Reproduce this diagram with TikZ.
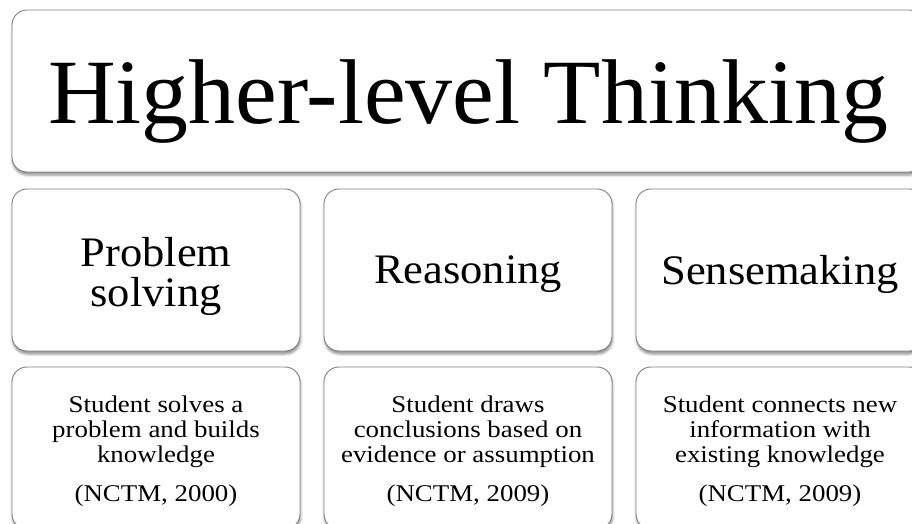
\documentclass[tikz,border=0pt]{standalone}
\usepackage{fontspec}
\setmainfont{Liberation Serif}
\newfontfamily\titlefont[FakeStretch=1.02]{Liberation Serif}
\newfontfamily\headfont[FakeStretch=1.06]{Liberation Serif}
\newfontfamily\notefont[FakeStretch=1.12]{Liberation Serif}
\usetikzlibrary{shadows.blur}
\definecolor{cardb}{RGB}{128,128,128}
\definecolor{txt}{RGB}{0,0,0}
\tikzset{
  card/.style={draw=cardb,fill=white,rounded corners=15pt,line width=0.9pt,inner sep=0pt,
    minimum width=288pt,minimum height=162pt,
    blur shadow={shadow xshift=0.6pt,shadow yshift=-3pt,shadow blur radius=2.5pt,shadow opacity=45}},
  bigcard/.style={card,minimum width=912pt},
  title/.style={inner sep=0pt,text=txt,font=\titlefont\fontsize{92}{92}\selectfont},
  head/.style={inner sep=0pt,align=center,text=txt,font=\headfont\fontsize{42}{40}\selectfont},
  note/.style={inner sep=0pt,align=center,text=txt,font=\notefont\fontsize{24}{25}\selectfont},
}
\newcommand{\citeline}[1]{\\[14pt]#1}

\begin{document}
\begin{tikzpicture}[x=1pt,y=-1pt]
% ---- page frame (pixel grid, y runs down) ----
\useasboundingbox (0,0) rectangle (912,524);
\clip (0,0) rectangle (912,524);
\def\yTop{91}\def\yMid{270}\def\yLow{448}
\def\xA{156}\def\xB{468}\def\xC{780}

\node[bigcard] (top) at (\xB,\yTop) {};
\node[title] (top-t) at (\xB,\yTop+11) {Higher-level Thinking};

% ---- middle row ----
\node[card] (solve) at (\xA,\yMid) {};
\node[card] (reason) at (\xB,\yMid) {};
\node[card] (sense) at (\xC,\yMid) {};
\node[head] (solve-t) at (\xA,\yMid+6) {Problem\\solving};
\node[head] (reason-t) at (\xB,\yMid+4) {Reasoning};
\node[head] (sense-t) at (\xC,\yMid+4) {Sensemaking};

% ---- lower row (cut by the page edge) ----
\foreach \col/\x in {solve/\xA,reason/\xB,sense/\xC}
  \node[card] (\col-d) at (\x,\yLow) {};
\node[note] (solve-n) at (\xA,\yLow+3) {Student solves a\\problem and builds\\knowledge\citeline{(NCTM, 2000)}};
\node[note] (reason-n) at (\xB,\yLow+3) {Student draws\\conclusions based on\\evidence or assumption\citeline{(NCTM, 2009)}};
\node[note] (sense-n) at (\xC,\yLow+3) {Student connects new\\information with\\existing knowledge\citeline{(NCTM, 2009)}};
\end{tikzpicture}
\end{document}
